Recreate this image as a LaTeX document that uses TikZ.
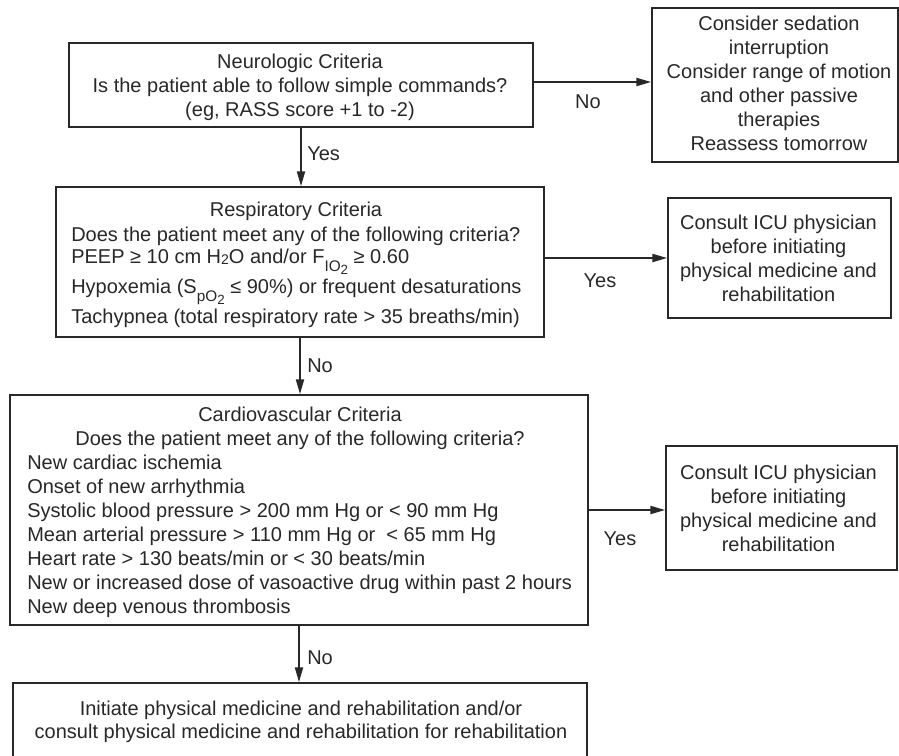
\documentclass[tikz,border=0pt]{standalone}
\usepackage{fontspec}
\setmainfont{Liberation Sans}
\usetikzlibrary{arrows.meta}
\definecolor{ink}{RGB}{40,40,40}
\newcommand\subA[1]{\raisebox{-6pt}{\fontsize{11.5pt}{12pt}\selectfont #1}}
\newcommand\subB[1]{\raisebox{-2.5pt}{\fontsize{10pt}{11pt}\selectfont #1}}
\newcommand\subH[1]{\raisebox{-1.2pt}{\fontsize{10.5pt}{11pt}\selectfont #1}}
\begin{document}
\begin{tikzpicture}[x=0.75pt,y=-0.75pt,
  box/.style={draw=ink, line width=1.3pt, inner sep=0pt, fill=none},
  txt/.style={inner sep=0pt, anchor=base, text=ink, font=\fontsize{15pt}{18pt}\selectfont},
  ltxt/.style={txt, anchor=base west},
  arr/.style={draw=ink, line width=1.3pt, -{Triangle[length=11pt,width=6pt]}}]
\useasboundingbox (0,0) rectangle (899,756);
\fill[white] (0,0) rectangle (899,756);

% Neurologic
\node[box, minimum width=348pt, minimum height=63pt] (neuro) at (301,85) {};
\node[txt] (n1) at (300,69) {Neurologic Criteria};
\node[txt] (n2) at (300,93) {Is the patient able to follow simple commands?};
\node[txt] (n3) at (300,117) {(eg, RASS score +1 to -2)};

% Sedation
\node[box, minimum width=184.5pt, minimum height=115.5pt] (sed) at (775,85) {};
\node[txt] (s1) at (779,31) {Consider sedation};
\node[txt] (s2) at (779,55) {interruption};
\node[txt] (s3) at (779,79) {Consider range of motion};
\node[txt] (s4) at (779,103) {and other passive};
\node[txt] (s5) at (779,127) {therapies};
\node[txt] (s6) at (779,151) {Reassess tomorrow};

% Respiratory
\node[box, minimum width=366pt, minimum height=112.5pt] (resp) at (300,262) {};
\node[txt] (r0) at (296,216) {Respiratory Criteria};
\node[ltxt] (r1) at (71,241) {Does the patient meet any of the following criteria?};
\node[ltxt] (r2) at (71,263) {PEEP ≥ 10 cm H\subH{2}O and/or F\subA{IO\subB{2}} ≥ 0.60};
\node[ltxt] (r3) at (71,293) {Hypoxemia (S\subA{pO\subB{2}} ≤ 90\%) or frequent desaturations};
\node[ltxt] (r4) at (71,323) {Tachypnea (total respiratory rate > 35 breaths/min)};

% Consult ICU 1
\node[box, minimum width=167.25pt, minimum height=90pt] (icu1) at (779.5,258) {};
\node[txt] (i1) at (778.5,229) {Consult ICU physician};
\node[txt] (i2) at (778.5,253) {before initiating};
\node[txt] (i3) at (778.5,277) {physical medicine and};
\node[txt] (i4) at (778.5,301) {rehabilitation};

% Cardiovascular
\node[box, minimum width=433.5pt, minimum height=172.5pt] (cardio) at (299,510) {};
\node[txt] (c0) at (300,421) {Cardiovascular Criteria};
\node[txt] (c1) at (300,445) {Does the patient meet any of the following criteria?};
\node[ltxt] (c2) at (27,469) {New cardiac ischemia};
\node[ltxt] (c3) at (27,493) {Onset of new arrhythmia};
\node[ltxt] (c4) at (27,517) {Systolic blood pressure > 200 mm Hg or < 90 mm Hg};
\node[ltxt] (c5) at (27,541) {Mean arterial pressure > 110 mm Hg or \ < 65 mm Hg};
\node[ltxt] (c6) at (27,565) {Heart rate > 130 beats/min or < 30 beats/min};
\node[ltxt] (c7) at (27,589) {New or increased dose of vasoactive drug within past 2 hours};
\node[ltxt] (c8) at (27,613) {New deep venous thrombosis};

% Consult ICU 2
\node[box, minimum width=173.25pt, minimum height=93pt] (icu2) at (781.5,508) {};
\node[txt] (j1) at (778.5,479) {Consult ICU physician};
\node[txt] (j2) at (778.5,503) {before initiating};
\node[txt] (j3) at (778.5,527) {physical medicine and};
\node[txt] (j4) at (778.5,551) {rehabilitation};

% Final
\node[box, minimum width=430.5pt, minimum height=57.75pt] (final) at (300,721.5) {};
\node[txt] (f1) at (301,715) {Initiate physical medicine and rehabilitation and/or};
\node[txt] (f2) at (301,738) {consult physical medicine and rehabilitation for rehabilitation};

% Connectors
\draw[arr] ([yshift=2.25pt]neuro.east) -- ([yshift=2.25pt]sed.west);
\draw[arr] (neuro.south) -- (neuro.south |- resp.north);
\draw[arr] (resp.east |- icu1.west) -- (icu1.west);
\draw[arr] (resp.south) -- (resp.south |- cardio.north);
\draw[arr] (cardio.east) -- (cardio.east -| icu2.west);
\draw[arr] (cardio.south) -- (cardio.south |- final.north);

% Labels
\node[txt] (l1) at (588,109) {No};
\node[ltxt] (l2) at (307,161) {Yes};
\node[txt] (l3) at (600,287) {Yes};
\node[ltxt] (l4) at (307,372) {No};
\node[txt] (l5) at (620,545) {Yes};
\node[ltxt] (l6) at (307,664) {No};
\end{tikzpicture}
\end{document}
